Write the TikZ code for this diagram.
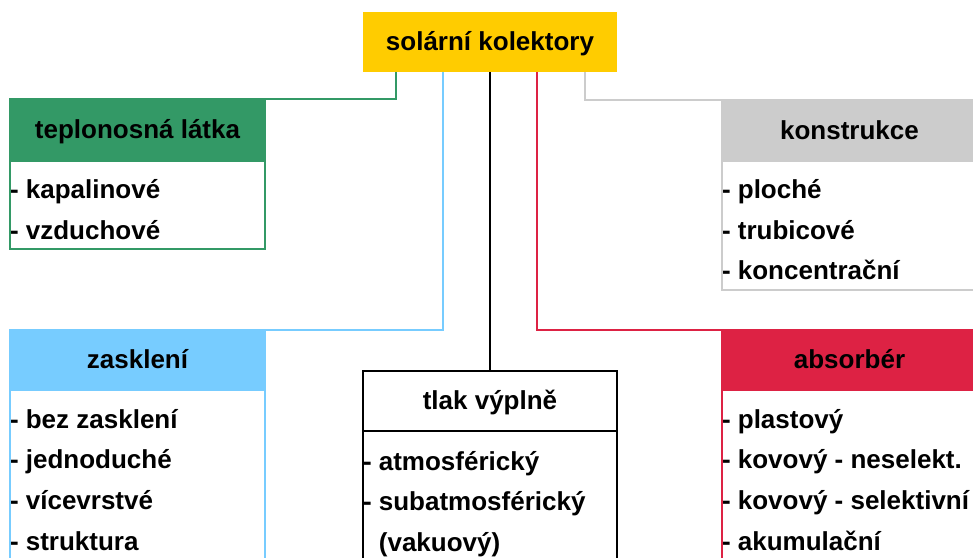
\documentclass[tikz,border=0pt]{standalone}
\usepackage{fontspec}
\setmainfont{Liberation Sans}
\usetikzlibrary{positioning}

\definecolor{kolyellow}{HTML}{FFCC00}
\definecolor{kolgreen}{HTML}{339966}
\definecolor{kolblue}{HTML}{77CCFF}
\definecolor{kolred}{HTML}{DD2244}
\definecolor{kolgray}{HTML}{CCCCCC}

\tikzset{
	every node/.style = {font=\fontsize{26}{30}\selectfont\bfseries, inner sep=0pt, outer sep=0pt},
	root/.style = {fill=kolyellow, minimum width=254pt, minimum height=60pt, text height=18.5pt, text depth=1.5pt},
	head/.style = {draw=#1, fill=#1, line width=2.5pt, minimum width=255pt, minimum height=60pt, text height=18.5pt, text depth=1.5pt, anchor=north west},
	body/.style = {draw=#1, line width=2.5pt, minimum width=255pt},
	item/.style = {anchor=base west},
	link/.style = {draw=#1, line width=2.5pt}
}

\begin{document}
\begin{tikzpicture}[x=1pt, y=-1pt]
	\clip (0,0) rectangle (973,557);
	
	\node[root] (root) at (490,42) {solární kolektory};
	
	\node[head=kolgreen, minimum height=62pt] (heat) at (10,99) {teplonosná látka};
	\node[body=kolgreen, minimum height=88pt, below=0pt of heat] (heatbody) {};
	\foreach \t [count=\i from 0] in {kapalinové, vzduchové}
		\node[item] (heat-\i) at ([yshift=-37.5pt-41pt*\i]heat.south west) {- \t};
	
	\node[head=kolgray, minimum height=61pt] (cons) at (722,100) {konstrukce};
	\node[body=kolgray, minimum height=129pt, below=0pt of cons] (consbody) {};
	\foreach \t [count=\i from 0] in {ploché, trubicové, koncentrační}
		\node[item] (cons-\i) at ([yshift=-37.5pt-40.7pt*\i]cons.south west) {- \t};
	
	\node[head=kolblue] (glaz) at (10,330) {zasklení};
	\node[body=kolblue, minimum height=300pt, below=0pt of glaz] (glazbody) {};
	\foreach \t [count=\i from 0] in {bez zasklení, jednoduché, vícevrstvé, struktura}
		\node[item] (glaz-\i) at ([yshift=-38pt-40.8pt*\i]glaz.south west) {- \t};
	
	\node[head=black, fill=white, minimum width=254pt] (press) at (363,371) {tlak výplně};
	\node[body=black, minimum width=254pt, minimum height=300pt, below=0pt of press] (pressbody) {};
	\foreach \t [count=\i from 0] in {- atmosférický, - subatmosférický, \hphantom{- }(vakuový)}
		\node[item] (press-\i) at ([yshift=-39pt-40.8pt*\i]press.south west) {\t};
	
	\node[head=kolred] (abs) at (722,330) {absorbér};
	\node[body=kolred, minimum height=300pt, below=0pt of abs] (absbody) {};
	\foreach \t [count=\i from 0] in {plastový, kovový - neselekt., kovový - selektivní, akumulační}
		\node[item] (abs-\i) at ([yshift=-38pt-40.8pt*\i]abs.south west) {- \t};
	
	\draw[link=kolgreen] ([xshift=-94pt]root.south) |- (heat.north east);
	\draw[link=kolblue] ([xshift=-47pt]root.south) |- (glaz.north east);
	\draw[link=black] (root.south) -- (press.north);
	\draw[link=kolred] ([xshift=47pt]root.south) |- (abs.north west);
	\draw[link=kolgray] ([xshift=95pt]root.south) |- (cons.north west);
\end{tikzpicture}
\end{document}
